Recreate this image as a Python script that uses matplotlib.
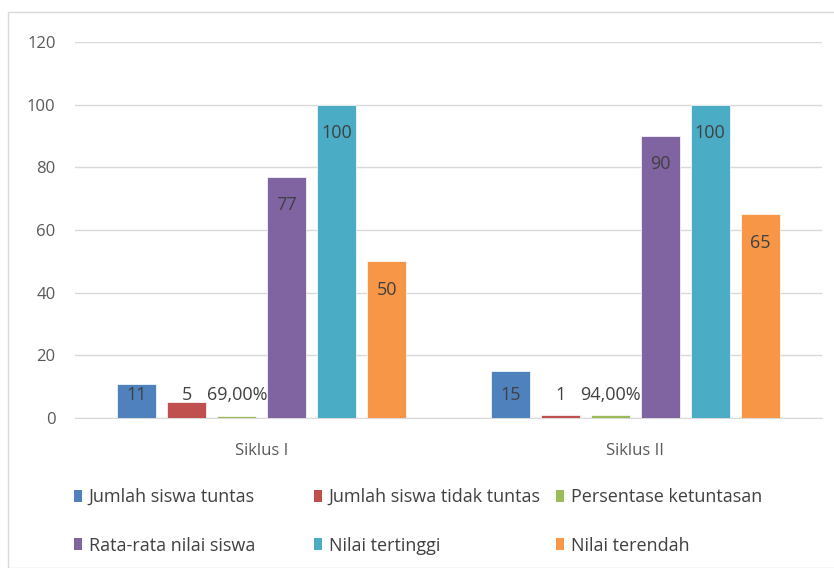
import matplotlib
matplotlib.use("Agg")
import matplotlib.pyplot as plt
from matplotlib.patches import Rectangle, Patch
import numpy as np

plt.rcParams['font.family'] = ['Open Sans', 'DejaVu Sans']

categories = ["Siklus I", "Siklus II"]
series_names = ["Jumlah siswa tuntas", "Jumlah siswa tidak tuntas", "Persentase ketuntasan",
                "Rata-rata nilai siswa", "Nilai tertinggi", "Nilai terendah"]
jumlah_tuntas = [11, 15]
jumlah_tidak_tuntas = [5, 1]
persentase = [0.69, 0.94]
rata_rata = [77, 90]
nilai_tertinggi = [100, 100]
nilai_terendah = [50, 65]
yticks = [0, 20, 40, 60, 80, 100, 120]

series = [jumlah_tuntas, jumlah_tidak_tuntas, persentase, rata_rata, nilai_tertinggi, nilai_terendah]
colors = ["#4f81bd", "#c0504d", "#9bbb59", "#8064a2", "#4bacc6", "#f79646"]

def fmt(v, i):
    if i == 2:
        return f"{v*100:.2f}%".replace(".", ",")
    return f"{v:g}"

W, H = 834, 568
fig = plt.figure(figsize=(W/100, H/100), dpi=100)
fig.patches.append(Rectangle((8/W, 0), 1.2, 1 - 12/H, transform=fig.transFigure,
                             fill=False, edgecolor="#d9d9d9", linewidth=1.0))
ax = fig.add_axes([75/W, 1 - 418/H, (822-75)/W, (418-42)/H])

x = np.arange(len(categories))
step = 50/373.5
width = 39/373.5
text_color = "#404040"
for i, (vals, c) in enumerate(zip(series, colors)):
    xs = x + (i - 2.5) * step
    ax.bar(xs, vals, width=width, color=c, edgecolor="white", linewidth=0.5, zorder=3)
    for xi, v in zip(xs, vals):
        ly = max(v - 9.0, 7.3)
        ax.text(xi, ly, fmt(v, i), ha="center", va="center", fontsize=13,
                color=text_color, zorder=4)

ax.set_xlim(-0.5, 1.5)
ax.set_ylim(0, 120)
ax.set_yticks(yticks)
ax.set_xticks(x)
ax.set_xticklabels(categories)
ax.grid(axis="y", color="#d9d9d9", linewidth=1.0, zorder=0)
for s in ["top", "right", "left"]:
    ax.spines[s].set_visible(False)
ax.spines["bottom"].set_color("#d9d9d9")
ax.tick_params(axis="both", length=0, labelsize=12, colors="#595959")
ax.tick_params(axis="y", pad=14)
ax.tick_params(axis="x", pad=18)

col_x = [74, 314, 556]
for col in range(3):
    handles = []
    for row in range(2):
        idx = row * 3 + col
        handles.append(Patch(facecolor=colors[idx], edgecolor="none", label=series_names[idx]))
    leg = fig.legend(handles=handles, loc="upper left",
                     bbox_to_anchor=(col_x[col]/W, 1 - 488/H),
                     frameon=False, fontsize=13, handlelength=0.42, handleheight=0.65,
                     handletextpad=0.4, labelspacing=1.7, borderpad=0, borderaxespad=0)
    for t in leg.get_texts():
        t.set_color("#404040")

fig.savefig("out.png", dpi=100)
